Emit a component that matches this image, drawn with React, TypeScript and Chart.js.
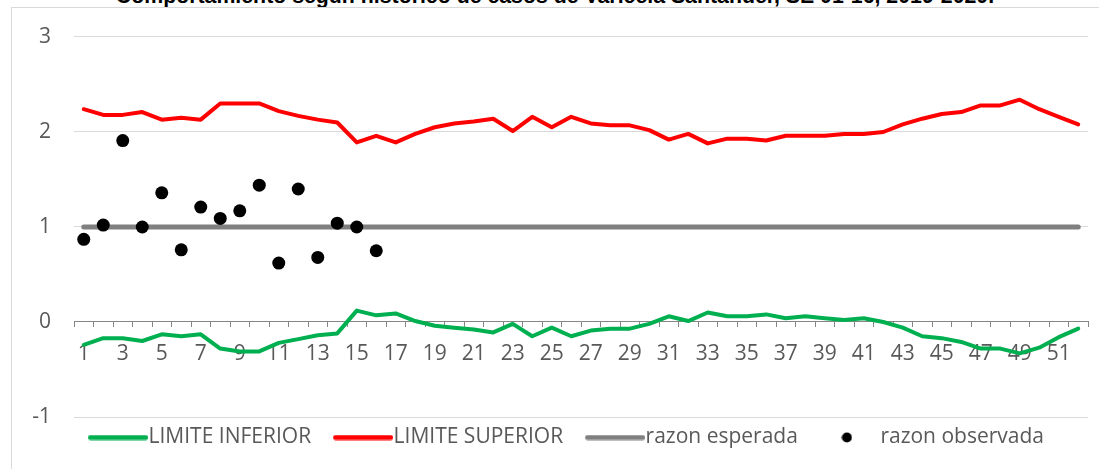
import React, { useEffect, useRef } from "react";
import { Chart, registerables } from "chart.js";

Chart.register(...registerables);

const semanas = [
  "1", "2", "3", "4", "5", "6", "7", "8", "9", "10",
  "11", "12", "13", "14", "15", "16", "17", "18", "19", "20",
  "21", "22", "23", "24", "25", "26", "27", "28", "29", "30",
  "31", "32", "33", "34", "35", "36", "37", "38", "39", "40",
  "41", "42", "43", "44", "45", "46", "47", "48", "49", "50",
  "51", "52",
];

const limiteInferior = [
  -0.24, -0.17, -0.17, -0.2, -0.13, -0.15, -0.13, -0.28, -0.31, -0.31,
  -0.22, -0.18, -0.14, -0.12, 0.12, 0.07, 0.09, 0.01, -0.04, -0.06,
  -0.08, -0.11, -0.02, -0.15, -0.06, -0.15, -0.09, -0.07, -0.07, -0.02,
  0.06, 0.01, 0.1, 0.06, 0.06, 0.08, 0.04, 0.06, 0.04, 0.02,
  0.04, 0.0, -0.06, -0.15, -0.17, -0.21, -0.28, -0.28, -0.33, -0.27,
  -0.16, -0.07,
];

const limiteSuperior = [
  2.24, 2.18, 2.18, 2.21, 2.13, 2.15, 2.13, 2.3, 2.3, 2.3,
  2.22, 2.17, 2.13, 2.1, 1.89, 1.96, 1.89, 1.98, 2.05, 2.09,
  2.11, 2.14, 2.01, 2.16, 2.05, 2.16, 2.09, 2.07, 2.07, 2.02,
  1.92, 1.98, 1.88, 1.93, 1.93, 1.91, 1.96, 1.96, 1.96, 1.98,
  1.98, 2.0, 2.08, 2.14, 2.19, 2.21, 2.28, 2.28, 2.34, 2.24,
  2.16, 2.08,
];

const razonEsperada = [
  1, 1, 1, 1, 1, 1, 1, 1, 1, 1,
  1, 1, 1, 1, 1, 1, 1, 1, 1, 1,
  1, 1, 1, 1, 1, 1, 1, 1, 1, 1,
  1, 1, 1, 1, 1, 1, 1, 1, 1, 1,
  1, 1, 1, 1, 1, 1, 1, 1, 1, 1,
  1, 1,
];

const razonObservada = [
  0.87, 1.02, 1.91, 1.0, 1.36, 0.76, 1.21, 1.09, 1.17, 1.44,
  0.62, 1.4, 0.68, 1.04, 1.0, 0.75,
];

const serieNombres = ["LIMITE INFERIOR", "LIMITE SUPERIOR", "razon esperada", "razon observada"];
const serieColores = ["#00b050", "#ff0000", "#808080", "#000000"];
const titulo = "Comportamiento según histórico de casos de Varicela Santander, SE 01-16, 2019-2020.";

const FONT_FAMILY = "'Open Sans', sans-serif";
const TEXT_COLOR = "#595959";
const CANVAS_W = 1108;
const CANVAS_H = 470;

function makeLineMarker(color: string): HTMLCanvasElement {
  const c = document.createElement("canvas");
  c.width = 66;
  c.height = 6;
  const g = c.getContext("2d");
  if (g) {
    g.strokeStyle = color;
    g.lineWidth = 5;
    g.lineCap = "round";
    g.beginPath();
    g.moveTo(8.5, 3);
    g.lineTo(63.5, 3);
    g.stroke();
  }
  return c;
}

function makeDotMarker(color: string): HTMLCanvasElement {
  const c = document.createElement("canvas");
  c.width = 11;
  c.height = 11;
  const g = c.getContext("2d");
  if (g) {
    g.fillStyle = color;
    g.beginPath();
    g.arc(5.5, 5.5, 5, 0, Math.PI * 2);
    g.fill();
  }
  return c;
}

export default function App() {
  const canvasRef = useRef<HTMLCanvasElement | null>(null);

  useEffect(() => {
    const canvas = canvasRef.current;
    if (!canvas) return;

    const markers = [
      makeLineMarker(serieColores[0]),
      makeLineMarker(serieColores[1]),
      makeLineMarker(serieColores[2]),
      makeDotMarker(serieColores[3]),
    ];

    const legendShift = {
      id: "legendShift",
      afterLayout(chart: any) {
        const lg = chart.legend;
        if (lg) {
          lg.top -= 16;
          lg.bottom -= 16;
          lg.left += 18;
          lg.right += 18;
        }
      },
    };

    const font = { family: FONT_FAMILY, size: 21 };
    const yFont = { family: FONT_FAMILY, size: 21, lineHeight: 0.57 };

    const chart = new Chart(canvas, {
      type: "line",
      data: {
        labels: semanas,
        datasets: [
          {
            label: serieNombres[0],
            data: limiteInferior,
            borderColor: serieColores[0],
            backgroundColor: serieColores[0],
            borderWidth: 4,
            pointRadius: 0,
            borderCapStyle: "round",
            borderJoinStyle: "round",
            tension: 0,
            order: 2,
          },
          {
            label: serieNombres[1],
            data: limiteSuperior,
            borderColor: serieColores[1],
            backgroundColor: serieColores[1],
            borderWidth: 4,
            pointRadius: 0,
            borderCapStyle: "round",
            borderJoinStyle: "round",
            tension: 0,
            order: 2,
          },
          {
            label: serieNombres[2],
            data: razonEsperada,
            borderColor: serieColores[2],
            backgroundColor: serieColores[2],
            borderWidth: 5,
            pointRadius: 0,
            borderCapStyle: "round",
            tension: 0,
            order: 3,
          },
          {
            label: serieNombres[3],
            data: razonObservada,
            showLine: false,
            borderColor: serieColores[3],
            backgroundColor: serieColores[3],
            pointRadius: 6.5,
            pointBackgroundColor: serieColores[3],
            pointBorderColor: serieColores[3],
            pointBorderWidth: 0,
            order: 1,
          },
        ],
      },
      options: {
        animation: false,
        responsive: false,
        maintainAspectRatio: false,
        events: [],
        layout: { padding: { top: 8, right: 32, bottom: 4, left: 0 } },
        plugins: {
          tooltip: { enabled: false },
          title: { display: false },
          legend: {
            display: true,
            position: "bottom",
            labels: {
              usePointStyle: true,
              pointStyleWidth: 46,
              boxHeight: 7,
              padding: 26,
              color: TEXT_COLOR,
              font,
              sort: (a: any, b: any) => a.datasetIndex - b.datasetIndex,
              generateLabels: (ch: any) => {
                const items = Chart.defaults.plugins.legend.labels.generateLabels(ch);
                return items.map((it: any) => ({
                  ...it,
                  pointStyle: markers[it.datasetIndex],
                  lineWidth: 0,
                  fillStyle: serieColores[it.datasetIndex],
                  strokeStyle: serieColores[it.datasetIndex],
                }));
              },
            },
          },
        },
        scales: {
          x: {
            type: "category",
            position: { y: 0 } as any,
            offset: true,
            grid: {
              offset: true,
              drawOnChartArea: false,
              drawTicks: true,
              tickLength: 5,
              tickColor: "#868686",
              tickWidth: 1,
            },
            border: { display: true, color: "#868686", width: 1 },
            ticks: {
              autoSkip: false,
              maxRotation: 0,
              minRotation: 0,
              padding: 14,
              color: TEXT_COLOR,
              font,
              callback: (_v: any, i: number) => (i % 2 === 0 ? semanas[i] : ""),
            },
            afterFit: (s: any) => {
              s.height = 0;
            },
          },
          y: {
            min: -1,
            max: 3,
            ticks: { stepSize: 1, padding: 23, color: TEXT_COLOR, font: yFont },
            grid: {
              color: (c: any) => (c.tick && c.tick.value === 0 ? "rgba(0,0,0,0)" : "#d9d9d9"),
              lineWidth: 1,
              drawTicks: false,
            },
            border: { display: false },
            afterFit: (s: any) => {
              s.width = 62;
            },
          },
        },
      },
      plugins: [legendShift],
    } as any);

    return () => {
      chart.destroy();
    };
  }, []);

  return (
    <div
      style={{
        position: "fixed",
        left: 0,
        top: 0,
        width: 1099,
        height: 469,
        overflow: "hidden",
        background: "#ffffff",
      }}
    >
      <div
        style={{
          position: "absolute",
          left: 0,
          top: -14,
          width: 1110,
          textAlign: "center",
          fontFamily: "'Liberation Sans', Arial, sans-serif",
          fontWeight: "bold",
          fontSize: 21.3,
          lineHeight: "20px",
          whiteSpace: "nowrap",
          color: "#000000",
        }}
      >
        {titulo}
      </div>
      <div
        style={{
          position: "absolute",
          left: 11,
          top: 7,
          width: CANVAS_W,
          height: CANVAS_H,
          border: "1px solid #d9d9d9",
        }}
      >
        <canvas
          ref={canvasRef}
          width={CANVAS_W}
          height={CANVAS_H}
          style={{ display: "block", width: CANVAS_W, height: CANVAS_H }}
        />
      </div>
    </div>
  );
}
